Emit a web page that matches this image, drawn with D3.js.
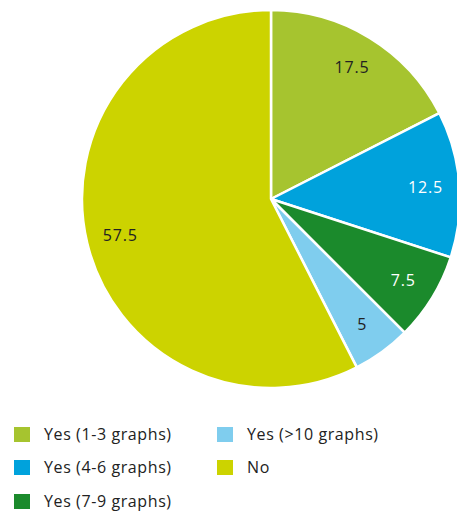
<!DOCTYPE html>
<html><head><meta charset="utf-8">
<script src="https://cdn.jsdelivr.net/npm/d3@7"></script>
<style>body{margin:0;background:#fff;}svg{display:block;}</style>
</head><body>
<svg id="c" width="457" height="515"></svg>
<script>
const categories = ["Yes (1-3 graphs)", "Yes (4-6 graphs)", "Yes (7-9 graphs)", "Yes (>10 graphs)", "No"];
const values = [17.5, 12.5, 7.5, 5, 57.5];
const colors = ["#a6c42f", "#00a2dc", "#1b8a2c", "#7fcdee", "#ccd300"];
const labelColors = ["#222", "#fff", "#fff", "#222", "#222"];

const svg = d3.select("#c");
const cx = 271, cy = 199, R = 189;
const pie = d3.pie().sort(null).value(d => d.v);
const data = pie(categories.map((c, i) => ({c, v: values[i], i})));
const arc = d3.arc().innerRadius(0).outerRadius(R);
const labelArc = d3.arc().innerRadius(155).outerRadius(155);
const g = svg.append("g").attr("transform", `translate(${cx},${cy})`);
g.selectAll("path").data(data).join("path")
  .attr("d", arc).attr("fill", d => colors[d.data.i])
  .attr("stroke", "#fff").attr("stroke-width", 2.5).attr("stroke-linejoin", "round");
g.selectAll("text").data(data).join("text")
  .attr("transform", d => `translate(${labelArc.centroid(d)})`)
  .attr("text-anchor", "middle").attr("dy", "0.36em")
  .attr("font-family", "'Open Sans', sans-serif").attr("font-size", 16).attr("letter-spacing", 0.8)
  .attr("fill", d => labelColors[d.data.i])
  .text(d => d.data.v);

const legendPos = [[14, 427], [14, 460], [14, 494], [217, 427], [217, 460]];
const lg = svg.append("g");
categories.forEach((c, i) => {
  const [x, y] = legendPos[i];
  lg.append("rect").attr("x", x).attr("y", y).attr("width", 16).attr("height", 15).attr("fill", colors[i]);
  lg.append("text").attr("x", x + 30).attr("y", y + 7.5).attr("dy", "0.36em")
    .attr("font-family", "'Open Sans', sans-serif").attr("font-size", 16).attr("letter-spacing", 0.6)
    .attr("fill", "#222").text(c);
});
</script>
</body></html>
